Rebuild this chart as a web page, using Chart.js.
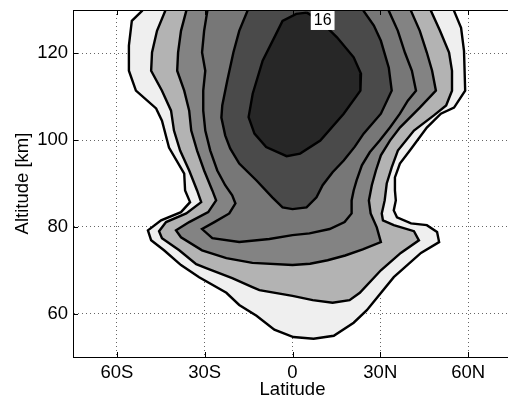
<!DOCTYPE html>
<html>
<head>
<meta charset="utf-8">
<script src="https://cdn.jsdelivr.net/npm/chart.js@4/dist/chart.umd.min.js"></script>
<style>
  html, body { margin: 0; padding: 0; overflow: hidden; background: #fff; }
</style>
</head>
<body>
<canvas id="chart" width="520" height="401"></canvas>
<script>
// Contour outlines as [latitude, altitude km], outermost level first.
// Open contours are closed above the top of the axes so the closing edge is clipped.
const level1 = [
  [-50.5, 132.5], [-51.4, 129.8], [-54.9, 127.5], [-55.9, 121.8], [-55.9, 116.0], [-53.5, 111.4],
  [-46.6, 107.3], [-44.6, 104.5], [-42.2, 98.3], [-37.0, 92.3], [-36.7, 88.4], [-35.0, 85.7],
  [-38.1, 83.4], [-44.9, 81.5], [-49.4, 79.2], [-48.3, 76.9], [-43.9, 74.6], [-38.1, 71.2],
  [-31.9, 68.4], [-22.6, 64.8], [-18.2, 62.0], [-12.3, 59.5], [-6.2, 56.3], [0.3, 54.6],
  [7.2, 54.2], [14.1, 54.9], [20.9, 57.9], [25.4, 60.8], [34.6, 68.4], [43.9, 74.0],
  [50.1, 76.5], [49.4, 78.8], [45.9, 80.4], [40.5, 80.8], [35.7, 82.2], [34.6, 83.8],
  [35.3, 86.1], [35.0, 88.4], [35.0, 91.4], [36.7, 94.6], [40.1, 97.6], [45.9, 102.9],
  [50.7, 106.1], [55.2, 107.5], [59.0, 111.4], [58.6, 120.6], [57.6, 125.9], [55.2, 129.8],
  [53.8, 132.5], [-50.5, 132.5]
];
const level2 = [
  [-43.0, 132.5], [-43.5, 129.8], [-46.3, 125.2], [-48.0, 120.2], [-48.3, 116.0], [-44.6, 111.4],
  [-41.5, 106.8], [-40.5, 102.2], [-38.4, 97.6], [-35.3, 93.0], [-32.6, 88.4], [-31.2, 85.7],
  [-36.3, 83.1], [-43.2, 81.1], [-45.6, 79.0], [-44.6, 77.4], [-38.7, 74.6], [-32.9, 71.4],
  [-29.5, 70.5], [-20.6, 68.2], [-13.7, 66.1], [-11.3, 65.4], [0.0, 64.1], [6.9, 63.1],
  [13.7, 62.5], [19.5, 63.1], [23.0, 64.8], [30.2, 70.0], [37.0, 74.0], [43.2, 76.9],
  [41.5, 79.0], [34.6, 80.4], [30.9, 81.5], [30.5, 83.1], [31.5, 86.1], [32.2, 90.0],
  [33.9, 93.7], [36.0, 97.6], [41.5, 102.2], [48.3, 105.7], [52.5, 108.0], [54.5, 111.4],
  [54.5, 116.0], [53.5, 120.2], [50.4, 125.2], [47.3, 129.8], [46.0, 132.5], [-43.0, 132.5]
];
const level3 = [
  [-35.5, 132.5], [-36.3, 129.8], [-38.1, 125.2], [-39.1, 120.2], [-39.4, 116.0], [-37.0, 111.4],
  [-35.3, 106.8], [-34.6, 102.2], [-32.6, 97.6], [-30.2, 93.0], [-27.4, 88.4], [-26.1, 86.1],
  [-28.8, 83.4], [-35.3, 81.1], [-39.8, 79.2], [-38.1, 77.6], [-30.9, 74.6], [-22.6, 72.8],
  [-13.7, 71.7], [0.0, 71.2], [6.0, 71.5], [12.0, 72.3], [18.0, 73.4], [24.0, 74.8],
  [30.2, 76.5], [28.8, 79.9], [26.7, 83.1], [26.1, 86.1], [27.1, 89.6], [28.5, 93.0],
  [30.2, 96.5], [33.3, 99.9], [36.7, 102.9], [43.5, 107.5], [49.0, 111.4], [47.7, 116.0],
  [45.9, 120.2], [43.5, 125.2], [40.5, 129.8], [39.5, 132.5], [-35.5, 132.5]
];
const level4 = [
  [-29.0, 132.5], [-29.1, 129.8], [-30.2, 125.2], [-30.9, 120.2], [-29.8, 116.0], [-30.5, 111.4],
  [-30.5, 106.8], [-29.8, 102.2], [-28.1, 97.6], [-25.7, 93.0], [-23.0, 89.6], [-20.6, 87.3],
  [-19.5, 85.4], [-21.6, 83.1], [-26.7, 81.1], [-30.9, 79.5], [-27.4, 77.4], [-18.2, 76.5],
  [-7.9, 77.2], [0.0, 78.1], [5.8, 78.5], [12.7, 79.5], [17.8, 81.1], [20.2, 83.1],
  [20.2, 86.1], [20.9, 88.4], [21.9, 90.7], [23.7, 94.2], [26.4, 97.2], [29.8, 99.9],
  [33.3, 102.9], [36.7, 106.1], [39.4, 109.1], [42.2, 111.4], [40.8, 116.0], [38.4, 120.2],
  [36.0, 125.2], [32.9, 129.8], [32.0, 132.5], [-29.0, 132.5]
];
const level5 = [
  [-15.0, 132.5], [-15.4, 129.8], [-18.2, 125.2], [-20.2, 120.2], [-22.3, 113.7], [-24.0, 108.0],
  [-24.3, 105.2], [-23.0, 101.1], [-21.3, 98.1], [-18.2, 94.6], [-12.3, 90.7], [-6.9, 86.8],
  [-3.4, 84.5], [0.0, 84.1], [4.8, 84.5], [8.2, 86.8], [10.3, 89.6], [13.7, 92.6],
  [17.5, 95.3], [21.3, 98.5], [24.3, 101.5], [30.2, 106.1], [33.9, 111.4], [32.9, 116.7],
  [30.2, 122.9], [27.8, 126.4], [24.3, 129.8], [23.0, 132.5], [-15.0, 132.5]
];
const level6 = [
  [4.9, 129.4], [9.5, 127.5], [15.2, 123.7], [20.9, 119.1], [23.4, 115.3], [23.2, 111.4],
  [17.5, 106.1], [9.5, 99.9], [2.6, 96.9], [-2.0, 96.3], [-9.0, 98.4], [-13.0, 101.5],
  [-15.0, 105.3], [-13.6, 110.7], [-10.2, 118.3], [-5.6, 124.5], [-3.4, 127.5], [1.3, 129.1],
  [4.9, 129.4]
];

const levelFills = ['#efefef', '#b3b3b3', '#838383', '#777777', '#4a4a4a', '#272727'];

const latTicks = [-60, -30, 0, 30, 60];
const latLabels = ['60S', '30S', '0', '30N', '60N'];
const altTicks = [60, 80, 100, 120];

// inline label of the innermost contour
const contourLabel = '16';
const contourLabelAt = [10.3, 127.7];

const levels = [level1, level2, level3, level4, level5, level6];
const FONT = "'Liberation Sans', Arial, Helvetica, sans-serif";

// box top edge, inward tick marks and the contour label
const framePlugin = {
  id: 'frame',
  afterDatasetsDraw(chart) {
    const { ctx, scales: { x, y } } = chart;
    const px = x.getPixelForValue(contourLabelAt[0]);
    const py = y.getPixelForValue(contourLabelAt[1]);
    ctx.save();
    ctx.font = '16px ' + FONT;
    const w = ctx.measureText(contourLabel).width;
    ctx.fillStyle = '#fff';
    ctx.fillRect(px - w / 2 - 3, py - 9, w + 6, 19);
    ctx.fillStyle = '#000';
    ctx.textAlign = 'center';
    ctx.textBaseline = 'middle';
    ctx.fillText(contourLabel, px, py + 1);
    ctx.restore();
  },
  afterDraw(chart) {
    const { ctx, chartArea: a, scales: { x, y } } = chart;
    const len = 5;
    ctx.save();
    ctx.strokeStyle = '#000';
    ctx.lineWidth = 1;
    ctx.beginPath();
    ctx.moveTo(a.left, Math.round(a.top) + 0.5);
    ctx.lineTo(a.right, Math.round(a.top) + 0.5);
    latTicks.forEach(v => {
      const p = Math.round(x.getPixelForValue(v)) + 0.5;
      ctx.moveTo(p, a.bottom);
      ctx.lineTo(p, a.bottom - len);
      ctx.moveTo(p, a.top);
      ctx.lineTo(p, a.top + len);
    });
    altTicks.forEach(v => {
      const p = Math.round(y.getPixelForValue(v)) + 0.5;
      ctx.moveTo(a.left, p);
      ctx.lineTo(a.left + len, p);
    });
    ctx.stroke();
    ctx.restore();
  }
};

const gridStyle = {
  color: 'rgba(0,0,0,0.6)',
  lineWidth: 1,
  drawTicks: false
};

new Chart(document.getElementById('chart'), {
  type: 'scatter',
  data: {
    datasets: levels.map((pts, i) => ({
      data: pts.map(p => ({ x: p[0], y: p[1] })),
      showLine: true,
      fill: 'shape',
      backgroundColor: levelFills[i],
      borderColor: '#000',
      borderWidth: 2.4,
      pointRadius: 0,
      tension: 0,
      order: levels.length - i
    }))
  },
  options: {
    responsive: false,
    animation: false,
    events: [],
    layout: { padding: { left: 0, top: 10, right: 8, bottom: 0 } },
    plugins: {
      legend: { display: false },
      tooltip: { enabled: false }
    },
    scales: {
      x: {
        type: 'linear',
        min: -75,
        max: 75,
        z: 1,
        afterBuildTicks: s => { s.ticks = latTicks.map(v => ({ value: v })); },
        afterFit: s => { s.height = 44; s.paddingLeft = 0; s.paddingRight = 0; },
        ticks: {
          color: '#000',
          padding: 5,
          font: { family: FONT, size: 18.5 },
          callback: v => latLabels[latTicks.indexOf(v)]
        },
        grid: gridStyle,
        border: { display: true, color: '#000', width: 1, dash: [1, 3] },
        title: {
          display: true,
          text: 'Latitude',
          color: '#000',
          font: { family: FONT, size: 18.5 },
          padding: { top: 0, bottom: 0 }
        }
      },
      y: {
        type: 'linear',
        min: 50,
        max: 130,
        z: 1,
        afterBuildTicks: s => { s.ticks = altTicks.map(v => ({ value: v })); },
        afterFit: s => { s.width = 73; s.paddingTop = 0; s.paddingBottom = 0; },
        ticks: {
          color: '#000',
          padding: 5,
          font: { family: FONT, size: 18.5 }
        },
        grid: gridStyle,
        border: { display: true, color: '#000', width: 1, dash: [1, 3] },
        title: {
          display: true,
          text: 'Altitude [km]',
          color: '#000',
          font: { family: FONT, size: 18.5 },
          padding: { top: 12, bottom: 0 }
        }
      }
    }
  },
  plugins: [framePlugin]
});
</script>
</body>
</html>
